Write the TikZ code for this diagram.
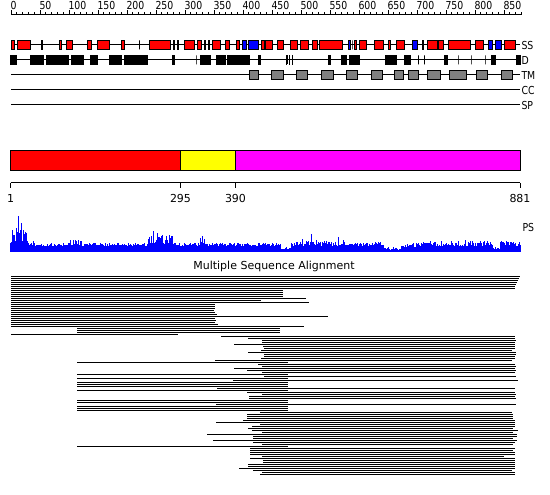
\documentclass[tikz,border=0pt]{standalone}
\usepackage{fontspec}
\setmainfont{DejaVu Sans}
\newfontfamily\narrowfont[FakeStretch=0.85]{DejaVu Sans}
\usepackage{tikz}
\usetikzlibrary{positioning}
\definecolor{SSRed}{HTML}{FF0000}
\definecolor{SSBlue}{HTML}{0000FF}
\definecolor{TMGrey}{HTML}{808080}
\definecolor{DomYellow}{HTML}{FFFF00}
\definecolor{DomPink}{HTML}{FF00FF}
\definecolor{PSBlue}{HTML}{0000FF}

\begin{document}
\begin{tikzpicture}[
  x=1pt,y=-1pt,line width=1pt,
  helix/.style={draw=black,fill=SSRed},
  strand/.style={draw=black,fill=SSBlue},
  disorder/.style={draw=black,fill=black},
  tmseg/.style={draw=black,fill=TMGrey},
  domainbox/.style={draw=black},
  tick/.style={draw=black,line width=1pt},
  tracklab/.style={anchor=west,inner sep=0pt,font=\narrowfont\fontsize{11}{13}\selectfont},
  rulerlab/.style={anchor=base west,inner sep=0pt,font=\narrowfont\fontsize{11}{13}\selectfont},
  domlab/.style={inner sep=0pt,font=\fontsize{11}{13}\selectfont},
  msaline/.style={line width=1pt}
]
  \path[fill=white] (0,0) rectangle (550,495);

  % ruler
  \draw[tick] (11,15) -- (521,15);
  \foreach \r in {0,10,...,880}
    \draw[tick] ({11+0.58*\r},15) -- ++(0,-3);
  \foreach \r in {0,50,...,850}{
    \draw[tick] ({11+0.58*\r},15) -- ++(0,-5);
    \node[rulerlab] (r\r) at ({11+0.58*\r-1},10) {\r};
  }

  % tracks
  \foreach \ty/\tn/\tt in {45/ss/SS,60/d/D,75/tm/TM,90/cc/CC,105/sp/SP}{
    \draw (11,\ty) -- (520,\ty);
    \node[tracklab] (\tn) at (521,\ty) {\tt};
  }
  \foreach \a/\b in {11/15.3,17.3/30.7,41/43.3,59/62.3,66.3/73.3,87.3/92.3,97.3/110.3,
      121.3/125.3,139/140,149.3/170.7,173/175,177/179.3,184.3/195.3,197.3/201.7,204/206,
      207.5/209.7,212/220.7,225.3/229.7,236/239.7,261.3/264.7,265.3/273.3,276.7/284.3,
      290/297.7,300/309.3,311.5/317.7,319.3/342.5,351.5/352.5,354.3/356.7,359.3/366.7,
      373.5/383.5,388.3/390.7,395.5/404.5,422.3/424.3,426.7/437.5,438.3/444.3,448.3/470.5,
      474.5/484.3,503.5/515.5}
    \draw[helix] (\a+0.5,40.5) rectangle (\b-0.5,49.5);
  \foreach \a/\b in {242.3/246.7,248.3/258.7,347.5/351,412.3/418.3,488.3/492.5,495.3/501.7}
    \draw[strand] (\a+0.5,40.5) rectangle (\b-0.5,49.5);
  \foreach \a/\b in {10/16.7,30/44.3,46/68.7,71/84,90/97.7,109/121.7,124/148.3,172/175,
      195.5/196.5,200/211,216/225.7,227/250,257.7/260.7,286/287.3,288.5/290,291.7/293.3,
      327.5/330.7,340.7/346.7,349/360,385/396.7,403.5/410.5,418/419,424/425,444.3/448.3,
      457.5/458.5,470.5/471.5,484.5/485.5,491/495.5,515.7/520.5}
    \draw[disorder] (\a+0.5,55.5) rectangle (\b-0.5,64.5);
  \foreach \a/\b in {249.3/258.7,271.3/283.5,295.5/308.3,321.2/334.2,345.5/358.3,370.5/383.3,
      394.3/404.3,408.3/418.8,427.3/440.5,449.3/467,476.3/488,500.5/513}
    \draw[tmseg] (\a+0.5,70.5) rectangle (\b-0.5,79.5);

  % domains
  \draw[domainbox,fill=SSRed] (10.5,150.5) rectangle (180.5,170.5);
  \draw[domainbox,fill=DomYellow] (180.5,150.5) rectangle (235.5,170.5);
  \draw[domainbox,fill=DomPink] (235.5,150.5) rectangle (520,170.5);
  \draw[tick] (10.5,183) -- (520,183);
  \foreach \px/\pl in {10.5/1,180.5/295,235.5/390,520/881}{
    \draw[tick] (\px,183) -- ++(0,5);
    \node[domlab] (p\pl) at (\px,198) {\pl};
  }

  % PS profile
  \pgfmathsetseed{42}
  \foreach \xa/\xb/\hb/\ha in {10/13/7/10,14/27/9/14,28/34/6/6,35/68/6/3,69/82/6/6,
      83/147/6/3,148/172/8/9,173/199/6/3,200/206/7/7,207/280/6/3,281/290/2/3,291/330/6/5,
      331/345/6/6,346/383/6/4,384/400/2/3,401/418/5/4,419/492/6/5,493/499/2/3,500/520/6/5}{
    \foreach \xx in {\xa,...,\xb}{
      \pgfmathsetmacro\hh{\hb+\ha*rnd}
      \fill[PSBlue] (\xx,252) rectangle ({\xx+1.3},{252-\hh});
    }
  }
  \foreach \xx/\hh in {18/36,12/22,21/29,16/24,23/22,25/18,153/21,157/19,162/17,166/16,
      170/14,202/16,311/18,338/15,73/12,78/12,302/13,316/12,430/11,465/12,470/11,480/11,508/10}
    \fill[PSBlue] (\xx,252) rectangle ({\xx+1},{252-\hh});
  \node[tracklab] (ps) at (522,227) {PS};

  % alignment
  \node[font=\fontsize{11}{13}\selectfont,inner sep=0pt] (msa) at (274,266) {Multiple Sequence Alignment};
  \foreach \xs/\xe [count=\k from 0] in {11/520,11/519,11/518,11/517,11/516,11/515,11/515,
      11/283,11/283,11/283,11/283,11/306,11/261,11/309,11/215,11/215,11/215,11/214,11/215,
      11/217,11/328,11/215,11/216,11/215,11/218,11/304,77/280,77/280,77/280,11/178,
      221/515,248/515,262/516,262/515,234/515,263/515,264/515,261/512,248/516,264/516,
      264/515,261/515,215/512,77/288,258/515,262/516,234/515,247/516,262/515,77/288,
      264/516,77/288,233/518,77/288,77/288,77/288,217/515,77/288,247/515,262/516,
      249/515,249/516,77/288,77/288,216/516,77/288,77/288,77/288,260/512,247/513,
      247/513,247/513,243/515,216/515,260/515,252/515,248/513,252/518,262/513,207/517,
      253/517,253/513,213/517,253/515,262/513,77/288,250/515,250/513,250/515,250/515,
      262/504,250/515,263/515,263/515,248/515,248/515,239/515,253/512,262/515,260/515}
    \draw[msaline] (\xs,{276+2*\k}) -- (\xe,{276+2*\k});
\end{tikzpicture}
\end{document}
